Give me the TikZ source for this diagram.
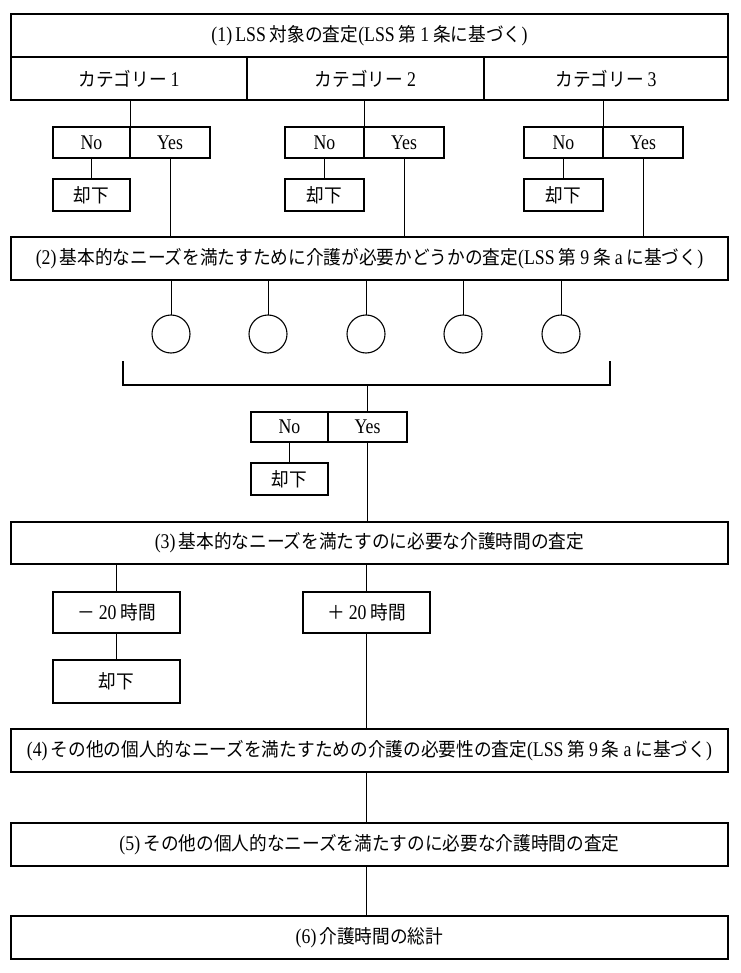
\documentclass[tikz,border=0pt]{standalone}
\usepackage{fontspec}
\setmainfont{Noto Sans CJK JP}[FakeStretch=0.93]
\newfontfamily\latinfont{Liberation Serif}[Scale=1.1,FakeStretch=0.85]
\newcommand\lt[1]{{\latinfont #1}}
\begin{document}
\begin{tikzpicture}[x=1pt,y=-1pt,
  box/.style={draw, line width=1.5pt, inner sep=0pt, outer sep=0pt, font=\fontsize{19}{21}\selectfont},
  yn/.style={box, font=\latinfont\fontsize{19}{21}\selectfont},
  ball/.style={draw, line width=1.1pt, circle, minimum size=38pt, inner sep=0pt, outer sep=0pt},
  conn/.style={line width=0.9pt}]
\useasboundingbox (0,0) rectangle (740,973);
\fill[white] (0,0) rectangle (740,973);

% (1) box and categories
\node[box, minimum width=717pt, minimum height=43pt] (t1) at (369.5,35.5) {\lt{(1)}\,\lt{LSS} 対象の査定\lt{(LSS} 第 \lt{1} 条に基づく\lt{)}};
\node[box, minimum width=236pt, minimum height=43pt] (c1) at (129,78.5) {カテゴリー \lt{1}};
\node[box, minimum width=237pt, minimum height=43pt] (c2) at (365.5,78.5) {カテゴリー \lt{2}};
\node[box, minimum width=244pt, minimum height=43pt] (c3) at (606,78.5) {カテゴリー \lt{3}};

% No / Yes groups
\node[yn, minimum width=77pt, minimum height=31pt] (n1) at (91.5,142.5) {No};
\node[yn, minimum width=80pt, minimum height=31pt] (y1) at (170,142.5) {Yes};
\node[yn, minimum width=79pt, minimum height=31pt] (n2) at (324.5,142.5) {No};
\node[yn, minimum width=80pt, minimum height=31pt] (y2) at (404,142.5) {Yes};
\node[yn, minimum width=79pt, minimum height=31pt] (n3) at (563.5,142.5) {No};
\node[yn, minimum width=80pt, minimum height=31pt] (y3) at (643,142.5) {Yes};

\node[box, minimum width=77pt, minimum height=32pt] (r1) at (91.5,195) {却下};
\node[box, minimum width=79pt, minimum height=32pt] (r2) at (324.5,195) {却下};
\node[box, minimum width=79pt, minimum height=32pt] (r3) at (563.5,195) {却下};

\draw[conn] (n1.north east) -- (n1.north east |- c1.south);
\draw[conn] (n2.north east) -- (n2.north east |- c2.south);
\draw[conn] (n3.north east) -- (n3.north east |- c3.south);
\draw[conn] (n1) -- (r1);
\draw[conn] (n2) -- (r2);
\draw[conn] (n3) -- (r3);

% (2) box
\node[box, minimum width=717pt, minimum height=43pt] (t2) at (369.5,258.5) {\lt{(2)}\,基本的なニーズを満たすために介護が必要かどうかの査定\lt{(LSS} 第 \lt{9} 条 \lt{a} に基づく\lt{)}};
\draw[conn] (y1.south) -- (y1.south |- t2.north);
\draw[conn] (y2.south) -- (y2.south |- t2.north);
\draw[conn] (y3.south) -- (y3.south |- t2.north);

% circles
\foreach \i/\x in {1/171,2/268,3/366,4/463,5/561}{
  \node[ball] (e\i) at (\x,334) {};
  \draw[conn] (e\i.north) -- (e\i.north |- t2.south);
}

% bracket
\coordinate (bkl) at (123,361);
\coordinate (bkr) at (610,361);
\coordinate (bkm) at (367.5,385);
\draw[line width=1.5pt] (bkl) |- (bkm) -| (bkr);

% second No / Yes
\node[yn, minimum width=77pt, minimum height=30pt] (n4) at (289.5,427) {No};
\node[yn, minimum width=79pt, minimum height=30pt] (y4) at (367.5,427) {Yes};
\node[box, minimum width=77pt, minimum height=32pt] (r4) at (289.5,479) {却下};
\draw[conn] (bkm) -- (y4.north);
\draw[conn] (n4) -- (r4);

% (3) box
\node[box, minimum width=717pt, minimum height=42pt] (t3) at (369.5,543) {\lt{(3)}\,基本的なニーズを満たすのに必要な介護時間の査定};
\draw[conn] (y4.south) -- (y4.south |- t3.north);

\node[box, minimum width=127pt, minimum height=41pt] (m1) at (116.5,612.5) {－ \lt{20} 時間};
\node[box, minimum width=127pt, minimum height=41pt] (p1) at (366.5,612.5) {＋ \lt{20} 時間};
\node[box, minimum width=127pt, minimum height=43pt] (r5) at (116.5,681.5) {却下};
\draw[conn] (m1.north) -- (m1.north |- t3.south);
\draw[conn] (p1.north) -- (p1.north |- t3.south);
\draw[conn] (m1) -- (r5);

% (4)-(6)
\node[box, minimum width=717pt, minimum height=43pt] (t4) at (369.5,750.5) {\lt{(4)}\,その他の個人的なニーズを満たすための介護の必要性の査定\lt{(LSS} 第 \lt{9} 条 \lt{a} に基づく\lt{)}};
\node[box, minimum width=717pt, minimum height=43pt] (t5) at (369.5,844.5) {\lt{(5)}\,その他の個人的なニーズを満たすのに必要な介護時間の査定};
\node[box, minimum width=717pt, minimum height=43pt] (t6) at (369.5,937.5) {\lt{(6)}\,介護時間の総計};
\draw[conn] (p1.south) -- (p1.south |- t4.north);
\draw[conn] (t4.south -| p1.south) -- (t5.north -| p1.south);
\draw[conn] (t5.south -| p1.south) -- (t6.north -| p1.south);
\end{tikzpicture}
\end{document}
